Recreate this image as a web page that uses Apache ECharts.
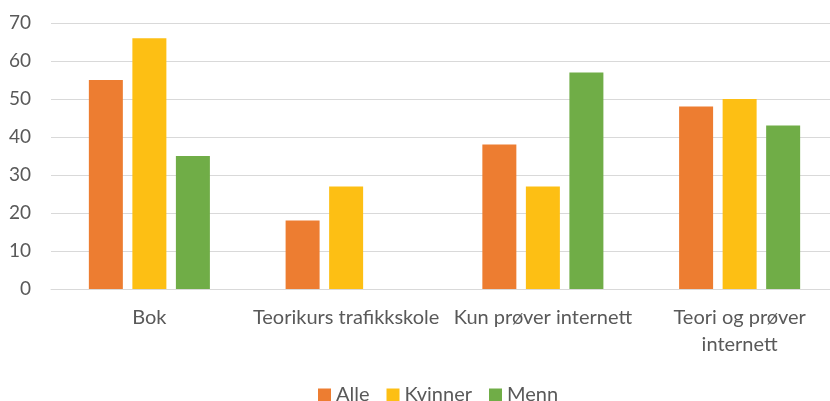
<!DOCTYPE html>
<html>
<head>
<meta charset="utf-8">
<script src="https://cdn.jsdelivr.net/npm/echarts@6/dist/echarts.min.js"></script>
<style>
  html, body { margin: 0; padding: 0; background: #fff; }
  #chart { width: 830px; height: 401px; }
</style>
</head>
<body>
<div id="chart"></div>
<script>
const categories = ['Bok', 'Teorikurs trafikkskole', 'Kun prøver internett', 'Teori og prøver\ninternett']
const alle = [55, 18, 38, 48]
const kvinner = [66, 27, 27, 50]
const menn = [35, null, 57, 43]
const yTicks = [0, 10, 20, 30, 40, 50, 60, 70]

const font = 'Lato, "Open Sans", sans-serif'
const textColor = '#595959'

const chart = echarts.init(document.getElementById('chart'))

const bar = (name, data, color) => ({
  name,
  type: 'bar',
  data,
  barWidth: 34,
  barGap: '28%',
  itemStyle: { color },
})

chart.setOption({
  animation: false,
  textStyle: { fontFamily: font },
  grid: { left: 51, width: 787, top: 23, bottom: 112, outerBoundsMode: 'none' },
  legend: {
    top: 380,
    left: 313,
    itemWidth: 13,
    itemHeight: 13,
    itemGap: 17,
    icon: 'rect',
    textStyle: { fontSize: 20, color: textColor, fontFamily: font },
    data: ['Alle', 'Kvinner', 'Menn'],
  },
  xAxis: {
    type: 'category',
    data: categories,
    axisLine: { lineStyle: { color: '#d9d9d9', width: 1 } },
    axisTick: { show: false },
    axisLabel: {
      color: textColor,
      fontSize: 20,
      lineHeight: 27,
      margin: 15,
      interval: 0,
      fontFamily: font,
    },
  },
  yAxis: {
    type: 'value',
    min: yTicks[0],
    max: yTicks[yTicks.length - 1],
    interval: 10,
    axisLine: { show: false },
    axisTick: { show: false },
    splitLine: { lineStyle: { color: '#d9d9d9', width: 1 } },
    axisLabel: { color: textColor, fontSize: 19, margin: 20, fontFamily: font },
  },
  series: [
    bar('Alle', alle, '#ed7d31'),
    bar('Kvinner', kvinner, '#fdbf14'),
    bar('Menn', menn, '#70ad47'),
  ],
})
</script>
</body>
</html>
